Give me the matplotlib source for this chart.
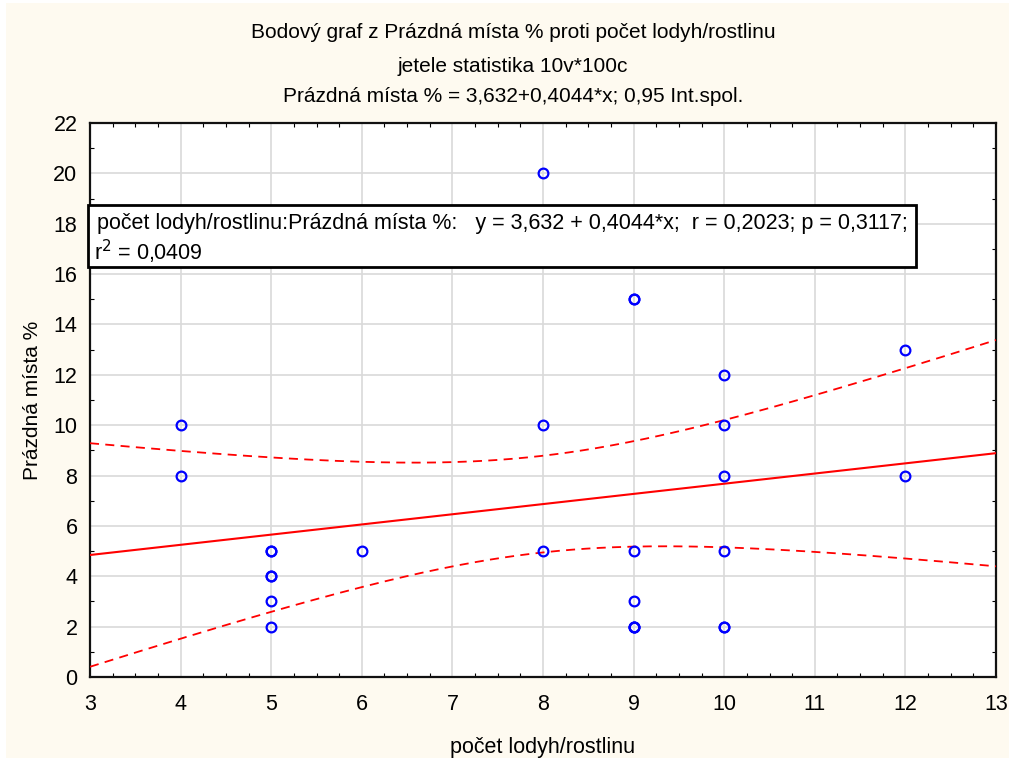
import numpy as np
import matplotlib
matplotlib.use("Agg")
import matplotlib.pyplot as plt
from matplotlib.patches import Rectangle

# === Data (počet lodyh/rostlinu vs Prázdná místa %) ===
stonky = [4, 4, 5, 5, 5, 5, 5, 5, 6, 8, 8, 8, 9, 9, 9, 9, 9, 9, 9, 10, 10, 10, 10, 10, 10, 12, 12]
prazdna = [10, 8, 5, 5, 4, 4, 3, 2, 5, 20, 10, 5, 15, 15, 5, 3, 2, 2, 2, 12, 10, 8, 5, 2, 2, 13, 8]

x_ticks = list(range(3, 14))
y_ticks = list(range(0, 23, 2))

titulky = ["Bodový graf z Prázdná místa % proti počet lodyh/rostlinu",
           "jetele statistika 10v*100c",
           "Prázdná místa % = 3,632+0,4044*x; 0,95 Int.spol."]
popis1 = "počet lodyh/rostlinu:Prázdná místa %:   y = 3,632 + 0,4044*x;  r = 0,2023; p = 0,3117;"
popis2 = "r$^2$ = 0,0409"

T_975_25 = 2.0595  # t kvantil, 25 st. volnosti

plt.rcParams['font.family'] = ['Liberation Sans', 'DejaVu Sans']

# === Regrese a pas spolehlivosti ===
xs = np.array(stonky, float)
ys = np.array(prazdna, float)
n = len(xs)
b, a = np.polyfit(xs, ys, 1)
res = ys - (a + b * xs)
s = np.sqrt((res ** 2).sum() / (n - 2))
sxx = ((xs - xs.mean()) ** 2).sum()
xg = np.linspace(3, 13, 200)
yg = a + b * xg
se = s * np.sqrt(1.0 / n + (xg - xs.mean()) ** 2 / sxx)
horni = yg + T_975_25 * se
dolni = yg - T_975_25 * se

# === Graf ===
fig = plt.figure(figsize=(10.09, 7.58), dpi=100, facecolor='white')
fig.patches.append(Rectangle((6 / 1009, 0), 1, 755 / 758, transform=fig.transFigure,
                             facecolor='#FEFAF0', edgecolor='none', zorder=-10))

ax = fig.add_axes([90 / 1009, 1 - 677 / 758, 906 / 1009, 554 / 758])
ax.set_facecolor('white')
ax.set_xlim(3, 13)
ax.set_ylim(0, 22)
ax.set_xticks(x_ticks)
ax.set_yticks(y_ticks)
ax.set_xticks(np.arange(3, 13.01, 0.25), minor=True)
ax.set_yticks(np.arange(0, 22.01, 1), minor=True)
ax.grid(True, which='major', color='#D9D9D9', lw=1.2, zorder=0)
ax.tick_params(which='both', direction='in', top=True, right=True, labelsize=15.5, colors='black')
ax.tick_params(which='major', length=0, pad=9)
ax.tick_params(axis='x', which='major', pad=12)
ax.tick_params(which='minor', length=3, width=0.8)
for sp in ax.spines.values():
    sp.set_linewidth(1.6)
    sp.set_color('#111111')

ax.plot(xg, yg, color='red', lw=1.5, zorder=3)
ax.plot(xg, horni, color='red', lw=1.3, ls=(0, (5, 3.5)), zorder=3)
ax.plot(xg, dolni, color='red', lw=1.3, ls=(0, (5, 3.5)), zorder=3)
ax.plot(stonky, prazdna, ls='none', marker='o', ms=7, mfc='none', mec='#0000FF', mew=1.6, zorder=4)

ax.set_xlabel("počet lodyh/rostlinu", fontsize=15.5, labelpad=16)
ax.set_ylabel("Prázdná místa %", fontsize=15, labelpad=8)

for i, t in enumerate(titulky):
    fig.text(513 / 1009, 1 - [32, 67, 97][i] / 758, t, ha='center', va='center', fontsize=15)

# === Popisek regrese ===
fig.patches.append(Rectangle((88 / 1009, 1 - 267 / 758), 828 / 1009, 62 / 758, transform=fig.transFigure,
                             facecolor='white', edgecolor='black', lw=2, zorder=5))
fig.text(97 / 1009, 1 - 224 / 758, popis1, ha='left', va='center', fontsize=15.5, zorder=6)
fig.text(94 / 1009, 1 - 252 / 758, popis2, ha='left', va='center', fontsize=15.5, zorder=6)

fig.savefig("out.png", dpi=100, facecolor=fig.get_facecolor())
